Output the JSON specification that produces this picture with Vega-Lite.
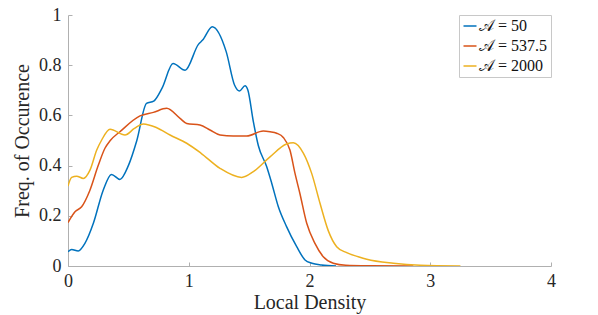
{
  "$schema": "https://vega.github.io/schema/vega-lite/v6.json",
  "width": 483,
  "height": 251,
  "autosize": {"type": "none"},
  "padding": {"left": 68, "top": 15, "right": 47, "bottom": 49},
  "background": "white",
  "config": {
    "view": {"stroke": null},
    "font": "Liberation Serif",
    "axis": {
      "grid": false,
      "labelFlush": false,
      "domainColor": "#b0b0b0",
      "tickColor": "#b0b0b0",
      "tickSize": -4,
      "labelFont": "Liberation Serif",
      "labelFontSize": 18,
      "labelColor": "#262626",
      "titleFont": "Liberation Serif",
      "titleFontSize": 20,
      "titleFontWeight": "normal",
      "titleColor": "#262626"
    }
  },
  "data": {
    "values": [
      {"x": 0.0, "y": 0.057, "s": "𝒜 = 50"},
      {"x": 0.03, "y": 0.066, "s": "𝒜 = 50"},
      {"x": 0.085, "y": 0.06, "s": "𝒜 = 50"},
      {"x": 0.14, "y": 0.09, "s": "𝒜 = 50"},
      {"x": 0.21, "y": 0.17, "s": "𝒜 = 50"},
      {"x": 0.29, "y": 0.30, "s": "𝒜 = 50"},
      {"x": 0.36, "y": 0.365, "s": "𝒜 = 50"},
      {"x": 0.43, "y": 0.345, "s": "𝒜 = 50"},
      {"x": 0.5, "y": 0.40, "s": "𝒜 = 50"},
      {"x": 0.57, "y": 0.50, "s": "𝒜 = 50"},
      {"x": 0.65, "y": 0.648, "s": "𝒜 = 50"},
      {"x": 0.71, "y": 0.657, "s": "𝒜 = 50"},
      {"x": 0.78, "y": 0.71, "s": "𝒜 = 50"},
      {"x": 0.87, "y": 0.807, "s": "𝒜 = 50"},
      {"x": 0.97, "y": 0.78, "s": "𝒜 = 50"},
      {"x": 1.08, "y": 0.883, "s": "𝒜 = 50"},
      {"x": 1.115, "y": 0.90, "s": "𝒜 = 50"},
      {"x": 1.195, "y": 0.953, "s": "𝒜 = 50"},
      {"x": 1.31, "y": 0.854, "s": "𝒜 = 50"},
      {"x": 1.38, "y": 0.72, "s": "𝒜 = 50"},
      {"x": 1.42, "y": 0.697, "s": "𝒜 = 50"},
      {"x": 1.466, "y": 0.718, "s": "𝒜 = 50"},
      {"x": 1.49, "y": 0.70, "s": "𝒜 = 50"},
      {"x": 1.535, "y": 0.575, "s": "𝒜 = 50"},
      {"x": 1.576, "y": 0.48, "s": "𝒜 = 50"},
      {"x": 1.645, "y": 0.396, "s": "𝒜 = 50"},
      {"x": 1.687, "y": 0.33, "s": "𝒜 = 50"},
      {"x": 1.742, "y": 0.236, "s": "𝒜 = 50"},
      {"x": 1.81, "y": 0.157, "s": "𝒜 = 50"},
      {"x": 1.894, "y": 0.077, "s": "𝒜 = 50"},
      {"x": 1.963, "y": 0.024, "s": "𝒜 = 50"},
      {"x": 2.02, "y": 0.011, "s": "𝒜 = 50"},
      {"x": 2.1, "y": 0.004, "s": "𝒜 = 50"},
      {"x": 2.22, "y": 0.0, "s": "𝒜 = 50"},

      {"x": 0.0, "y": 0.173, "s": "𝒜 = 537.5"},
      {"x": 0.058, "y": 0.216, "s": "𝒜 = 537.5"},
      {"x": 0.113, "y": 0.236, "s": "𝒜 = 537.5"},
      {"x": 0.18, "y": 0.30, "s": "𝒜 = 537.5"},
      {"x": 0.25, "y": 0.40, "s": "𝒜 = 537.5"},
      {"x": 0.306, "y": 0.469, "s": "𝒜 = 537.5"},
      {"x": 0.35, "y": 0.50, "s": "𝒜 = 537.5"},
      {"x": 0.43, "y": 0.535, "s": "𝒜 = 537.5"},
      {"x": 0.596, "y": 0.598, "s": "𝒜 = 537.5"},
      {"x": 0.707, "y": 0.612, "s": "𝒜 = 537.5"},
      {"x": 0.817, "y": 0.628, "s": "𝒜 = 537.5"},
      {"x": 0.928, "y": 0.588, "s": "𝒜 = 537.5"},
      {"x": 0.983, "y": 0.568, "s": "𝒜 = 537.5"},
      {"x": 1.093, "y": 0.562, "s": "𝒜 = 537.5"},
      {"x": 1.176, "y": 0.542, "s": "𝒜 = 537.5"},
      {"x": 1.259, "y": 0.522, "s": "𝒜 = 537.5"},
      {"x": 1.369, "y": 0.518, "s": "𝒜 = 537.5"},
      {"x": 1.48, "y": 0.518, "s": "𝒜 = 537.5"},
      {"x": 1.617, "y": 0.538, "s": "𝒜 = 537.5"},
      {"x": 1.673, "y": 0.535, "s": "𝒜 = 537.5"},
      {"x": 1.728, "y": 0.529, "s": "𝒜 = 537.5"},
      {"x": 1.783, "y": 0.512, "s": "𝒜 = 537.5"},
      {"x": 1.838, "y": 0.462, "s": "𝒜 = 537.5"},
      {"x": 1.88, "y": 0.369, "s": "𝒜 = 537.5"},
      {"x": 1.92, "y": 0.290, "s": "𝒜 = 537.5"},
      {"x": 1.977, "y": 0.17, "s": "𝒜 = 537.5"},
      {"x": 2.045, "y": 0.09, "s": "𝒜 = 537.5"},
      {"x": 2.114, "y": 0.037, "s": "𝒜 = 537.5"},
      {"x": 2.197, "y": 0.011, "s": "𝒜 = 537.5"},
      {"x": 2.3, "y": 0.003, "s": "𝒜 = 537.5"},
      {"x": 2.5, "y": 0.001, "s": "𝒜 = 537.5"},
      {"x": 2.86, "y": 0.0, "s": "𝒜 = 537.5"},

      {"x": 0.0, "y": 0.319, "s": "𝒜 = 2000"},
      {"x": 0.03, "y": 0.353, "s": "𝒜 = 2000"},
      {"x": 0.072, "y": 0.358, "s": "𝒜 = 2000"},
      {"x": 0.127, "y": 0.349, "s": "𝒜 = 2000"},
      {"x": 0.182, "y": 0.382, "s": "𝒜 = 2000"},
      {"x": 0.238, "y": 0.462, "s": "𝒜 = 2000"},
      {"x": 0.279, "y": 0.502, "s": "𝒜 = 2000"},
      {"x": 0.348, "y": 0.545, "s": "𝒜 = 2000"},
      {"x": 0.472, "y": 0.522, "s": "𝒜 = 2000"},
      {"x": 0.55, "y": 0.548, "s": "𝒜 = 2000"},
      {"x": 0.624, "y": 0.566, "s": "𝒜 = 2000"},
      {"x": 0.735, "y": 0.551, "s": "𝒜 = 2000"},
      {"x": 0.845, "y": 0.522, "s": "𝒜 = 2000"},
      {"x": 0.983, "y": 0.489, "s": "𝒜 = 2000"},
      {"x": 1.1, "y": 0.45, "s": "𝒜 = 2000"},
      {"x": 1.259, "y": 0.389, "s": "𝒜 = 2000"},
      {"x": 1.438, "y": 0.353, "s": "𝒜 = 2000"},
      {"x": 1.535, "y": 0.376, "s": "𝒜 = 2000"},
      {"x": 1.673, "y": 0.435, "s": "𝒜 = 2000"},
      {"x": 1.81, "y": 0.486, "s": "𝒜 = 2000"},
      {"x": 1.866, "y": 0.491, "s": "𝒜 = 2000"},
      {"x": 1.95, "y": 0.449, "s": "𝒜 = 2000"},
      {"x": 2.018, "y": 0.369, "s": "𝒜 = 2000"},
      {"x": 2.087, "y": 0.250, "s": "𝒜 = 2000"},
      {"x": 2.156, "y": 0.140, "s": "𝒜 = 2000"},
      {"x": 2.225, "y": 0.077, "s": "𝒜 = 2000"},
      {"x": 2.308, "y": 0.053, "s": "𝒜 = 2000"},
      {"x": 2.404, "y": 0.037, "s": "𝒜 = 2000"},
      {"x": 2.474, "y": 0.027, "s": "𝒜 = 2000"},
      {"x": 2.694, "y": 0.011, "s": "𝒜 = 2000"},
      {"x": 2.915, "y": 0.003, "s": "𝒜 = 2000"},
      {"x": 3.25, "y": 0.0, "s": "𝒜 = 2000"}
    ]
  },
  "mark": {"type": "line", "interpolate": "monotone", "strokeWidth": 1.5, "clip": true},
  "encoding": {
    "x": {
      "field": "x", "type": "quantitative",
      "scale": {"domain": [0, 4], "nice": false},
      "axis": {"values": [0, 1, 2, 3, 4], "title": "Local Density", "labelPadding": 10, "titlePadding": 2}
    },
    "y": {
      "field": "y", "type": "quantitative",
      "scale": {"domain": [0, 1], "nice": false},
      "axis": {"values": [0, 0.2, 0.4, 0.6, 0.8, 1], "format": "~g", "title": "Freq. of Occurence", "labelPadding": 11, "titlePadding": 6}
    },
    "color": {
      "field": "s", "type": "nominal",
      "scale": {"domain": ["𝒜 = 50", "𝒜 = 537.5", "𝒜 = 2000"], "range": ["#0072BD", "#D95319", "#EDB120"]},
      "legend": {
        "title": null,
        "orient": "none",
        "legendX": 391,
        "legendY": 0,
        "symbolType": "stroke",
        "symbolSize": 169,
        "symbolStrokeWidth": 1.5,
        "labelFont": "Liberation Serif",
        "labelFontSize": 16,
        "labelColor": "#111",
        "fillColor": "white",
        "strokeColor": "#c8c8c8",
        "padding": 3,
        "rowPadding": 4,
        "labelOffset": 1,
        "labelLimit": 200
      }
    }
  }
}
